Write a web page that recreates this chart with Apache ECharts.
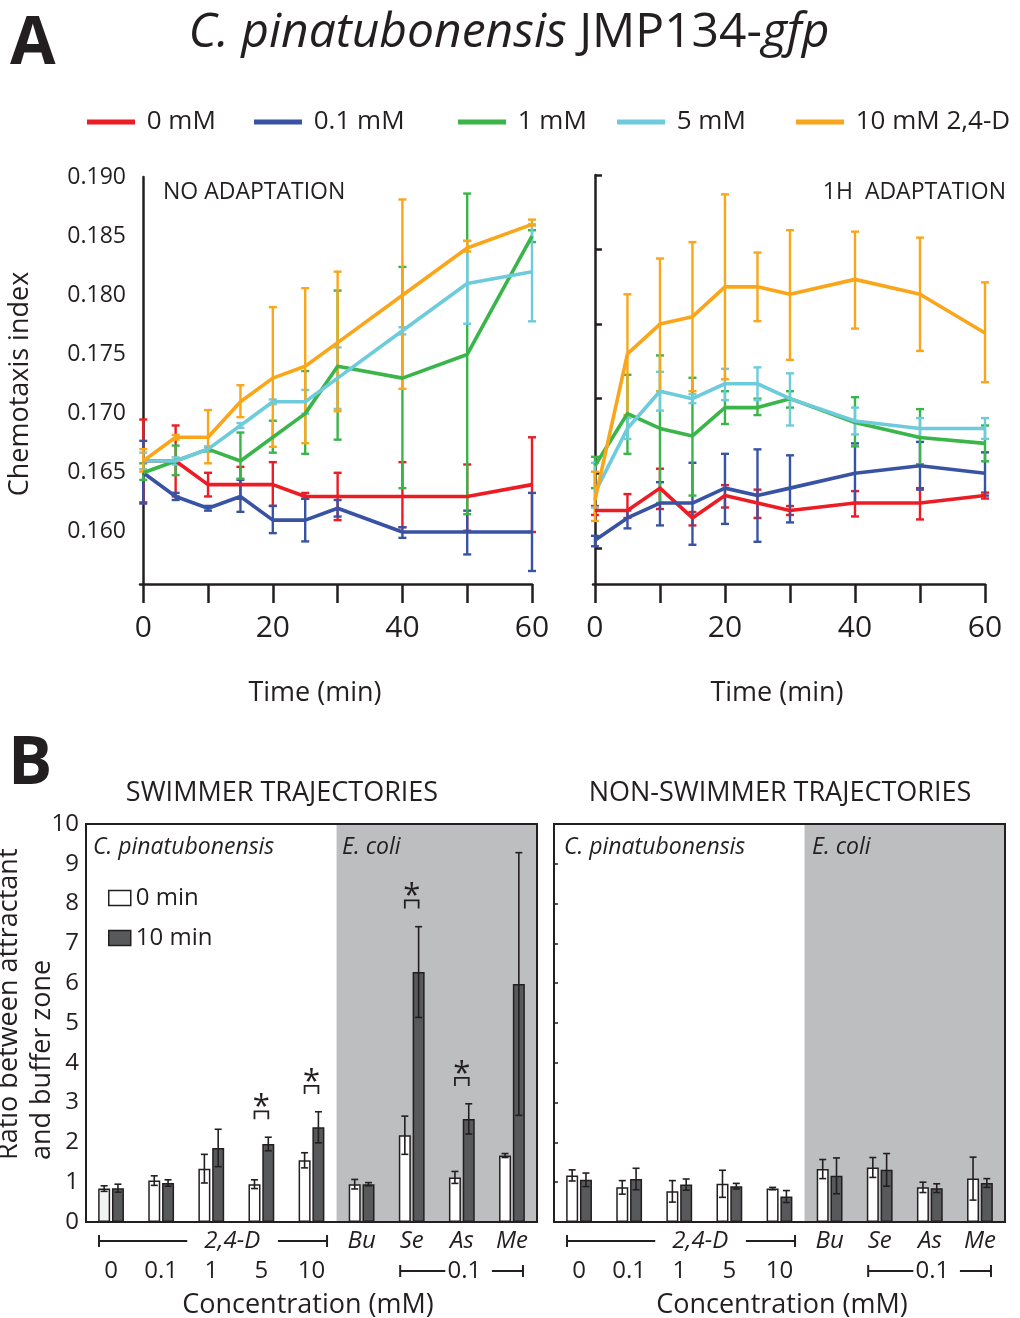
<!DOCTYPE html>
<html><head><meta charset="utf-8">
<script src="https://cdn.jsdelivr.net/npm/echarts@6/dist/echarts.min.js"></script>
<style>html,body{margin:0;padding:0;background:#fff}#c{width:1020px;height:1318px}</style>
</head><body><div id="c"></div>
<script>
const TXT = '#231f20';
const FONT = '"Open Sans", "Noto Sans", sans-serif';

// ---------- Panel A data ----------
const timePoints = [0, 5, 10, 15, 20, 25, 30, 40, 50, 60];
const concNames = ['0 mM', '0.1 mM', '1 mM', '5 mM', '10 mM 2,4-D'];
const lineColors = ['#ed1c24', '#3953a4', '#3ab54a', '#6dcbdc', '#faa61a'];
const leftYTicks = [0.160, 0.165, 0.170, 0.175, 0.180, 0.185, 0.190];
const rightYTicks = [0.160, 0.165, 0.170, 0.175, 0.180, 0.185];
const timeTicks = [0, 10, 20, 30, 40, 50, 60];
const timeLabels = [0, 20, 40, 60];

// NO ADAPTATION
const noAdapt0mM   = [0.166, 0.166, 0.164, 0.164, 0.164, 0.163, 0.163, 0.163, 0.163, 0.164];
const noAdapt0mMHi = [0.1695, 0.169, 0.165, 0.1655, 0.1659, 0.1633, 0.165, 0.1659, 0.1657, 0.168];
const noAdapt0mMLo = [0.1625, 0.163, 0.163, 0.1628, 0.1622, 0.1628, 0.161, 0.1604, 0.1601, 0.160];
const noAdapt01mM   = [0.165, 0.163, 0.162, 0.163, 0.161, 0.161, 0.162, 0.160, 0.160, 0.160];
const noAdapt01mMHi = [0.1677, 0.1633, 0.1622, 0.1644, 0.1622, 0.1628, 0.1627, 0.1604, 0.1618, 0.1633];
const noAdapt01mMLo = [0.1624, 0.1627, 0.1618, 0.1617, 0.1599, 0.1592, 0.1613, 0.1595, 0.1581, 0.1567];
const noAdapt1mM   = [0.165, 0.166, 0.167, 0.166, 0.168, 0.170, 0.174, 0.173, 0.175, 0.185];
const noAdapt1mMHi = [0.1658, 0.1673, 0.1672, 0.1684, 0.1694, 0.1736, 0.1804, 0.1824, 0.1886, 0.1855];
const noAdapt1mMLo = [0.1644, 0.1648, 0.1668, 0.1645, 0.1667, 0.1666, 0.1678, 0.1637, 0.1615, 0.1845];
const noAdapt5mM   = [0.166, 0.166, 0.167, 0.169, 0.171, 0.171, 0.173, 0.177, 0.181, 0.182];
const noAdapt5mMHi = [0.1667, 0.1663, 0.1672, 0.1692, 0.1712, 0.172, 0.1756, 0.1773, 0.1846, 0.186];
const noAdapt5mMLo = [0.1653, 0.1657, 0.1668, 0.1688, 0.1708, 0.170, 0.1704, 0.1767, 0.1776, 0.1778];
const noAdapt10mM   = [0.166, 0.168, 0.168, 0.171, 0.173, 0.174, 0.176, 0.180, 0.184, 0.186];
const noAdapt10mMHi = [0.167, 0.1682, 0.1703, 0.1724, 0.179, 0.1806, 0.182, 0.1881, 0.1846, 0.1864];
const noAdapt10mMLo = [0.1651, 0.1678, 0.1658, 0.1697, 0.1672, 0.1675, 0.1702, 0.1721, 0.1837, 0.1859];

// 1H ADAPTATION
const adapt0mM   = [0.1625, 0.1625, 0.164, 0.162, 0.1635, 0.163, 0.1625, 0.163, 0.163, 0.1635];
const adapt0mMHi = [0.1628, 0.1636, 0.1653, 0.1624, 0.1642, 0.1639, 0.1628, 0.1638, 0.164, 0.1637];
const adapt0mMLo = [0.1622, 0.162, 0.1626, 0.1615, 0.1627, 0.162, 0.1622, 0.1621, 0.1619, 0.1633];
const adapt01mM   = [0.1605, 0.162, 0.163, 0.163, 0.164, 0.1635, 0.164, 0.165, 0.1655, 0.165];
const adapt01mMHi = [0.1608, 0.1625, 0.1644, 0.1657, 0.1663, 0.1666, 0.1662, 0.167, 0.1671, 0.1664];
const adapt01mMLo = [0.1601, 0.1613, 0.1615, 0.1602, 0.1616, 0.1604, 0.1617, 0.163, 0.1639, 0.1635];
const adapt1mM   = [0.1655, 0.169, 0.168, 0.1675, 0.1694, 0.1694, 0.170, 0.1684, 0.1674, 0.167];
const adapt1mMHi = [0.1661, 0.1716, 0.1729, 0.1714, 0.1705, 0.170, 0.1705, 0.1701, 0.1693, 0.1682];
const adapt1mMLo = [0.164, 0.1663, 0.163, 0.1635, 0.1683, 0.1689, 0.1694, 0.1668, 0.1656, 0.1658];
const adapt5mM   = [0.1637, 0.168, 0.1705, 0.170, 0.171, 0.171, 0.170, 0.1685, 0.168, 0.168];
const adapt5mMHi = [0.1657, 0.1687, 0.1718, 0.1703, 0.172, 0.1721, 0.1717, 0.1694, 0.1687, 0.1687];
const adapt5mMLo = [0.1627, 0.1673, 0.1692, 0.1697, 0.1699, 0.1699, 0.1682, 0.1676, 0.1674, 0.1673];
const adapt10mM   = [0.1632, 0.173, 0.175, 0.1755, 0.1775, 0.1775, 0.177, 0.178, 0.177, 0.1744];
const adapt10mMHi = [0.1651, 0.177, 0.1794, 0.1805, 0.1837, 0.1798, 0.1813, 0.1812, 0.1808, 0.1778];
const adapt10mMLo = [0.1618, 0.1689, 0.1705, 0.1705, 0.1713, 0.1752, 0.1726, 0.1747, 0.1732, 0.1711];

// ---------- Panel B data ----------
const categories = ['0', '0.1', '1', '5', '10', 'Bu', 'Se', 'As', 'Me'];
const barNames = ['0 min', '10 min'];
const swim0 = [0.84, 1.04, 1.34, 0.95, 1.55, 0.95, 2.18, 1.12, 1.67];
const swim0Err = [0.07, 0.12, 0.36, 0.11, 0.19, 0.12, 0.48, 0.15, 0.05];
const swim10 = [0.85, 0.98, 1.86, 1.96, 2.38, 0.95, 6.28, 2.59, 5.98];
const swim10Err = [0.10, 0.08, 0.47, 0.17, 0.39, 0.04, 1.14, 0.38, 3.30];
const nonSwim0 = [1.17, 0.87, 0.77, 0.96, 0.84, 1.33, 1.37, 0.87, 1.09];
const nonSwim0Err = [0.14, 0.17, 0.27, 0.34, 0.03, 0.24, 0.25, 0.13, 0.54];
const nonSwim10 = [1.06, 1.08, 0.94, 0.90, 0.64, 1.16, 1.31, 0.85, 0.98];
const nonSwim10Err = [0.17, 0.27, 0.14, 0.07, 0.15, 0.45, 0.41, 0.11, 0.11];
const sigCategories = ['5', '10', 'Se', 'As'];
const sigLevels = [2.78, 3.42, 8.08, 3.62];
const ecoliStart = 'Bu';

// ---------- helpers ----------
function errRenderer(color, lw, hw, dx) {
  return function (params, api) {
    const x = api.value(0);
    const top = api.coord([x, api.value(1)]);
    const bot = api.coord([x, api.value(2)]);
    const cx = top[0] + dx;
    const st = { stroke: color, lineWidth: lw };
    return { type: 'group', children: [
      { type: 'line', shape: { x1: cx, y1: top[1], x2: cx, y2: bot[1] }, style: st },
      { type: 'line', shape: { x1: cx - hw, y1: top[1], x2: cx + hw, y2: top[1] }, style: st },
      { type: 'line', shape: { x1: cx - hw, y1: bot[1], x2: cx + hw, y2: bot[1] }, style: st }
    ]};
  };
}

const noAdaptSets = [
  [noAdapt0mM, noAdapt0mMHi, noAdapt0mMLo], [noAdapt01mM, noAdapt01mMHi, noAdapt01mMLo],
  [noAdapt1mM, noAdapt1mMHi, noAdapt1mMLo], [noAdapt5mM, noAdapt5mMHi, noAdapt5mMLo],
  [noAdapt10mM, noAdapt10mMHi, noAdapt10mMLo]
];
const adaptSets = [
  [adapt0mM, adapt0mMHi, adapt0mMLo], [adapt01mM, adapt01mMHi, adapt01mMLo],
  [adapt1mM, adapt1mMHi, adapt1mMLo], [adapt5mM, adapt5mMHi, adapt5mMLo],
  [adapt10mM, adapt10mMHi, adapt10mMLo]
];

const series = [];
[noAdaptSets, adaptSets].forEach((sets, gi) => {
  sets.forEach((s, k) => {
    series.push({
      type: 'custom', xAxisIndex: gi, yAxisIndex: gi, silent: true, z: 3,
      renderItem: errRenderer(lineColors[k], 2.4, 4, 0),
      encode: { x: 0, y: [1, 2] },
      data: timePoints.map((t, i) => [t, s[1][i], s[2][i]])
    });
    series.push({
      type: 'line', name: concNames[k], xAxisIndex: gi, yAxisIndex: gi, z: 3,
      symbol: 'none', silent: true,
      lineStyle: { color: lineColors[k], width: 3.6, join: 'round' },
      itemStyle: { color: lineColors[k] },
      data: timePoints.map((t, i) => [t, s[0][i]])
    });
  });
});

// Panel B
function bgRender(params, api) {
  const cs = params.coordSys;
  const c = api.coord([api.value(0), 0]);
  const bw = api.size([1, 0])[0];
  const x = c[0] - bw / 2;
  return { type: 'rect', shape: { x: x, y: cs.y, width: cs.x + cs.width - x, height: cs.height },
    style: { fill: '#bcbec0' } };
}
function frameRender(params, api) {
  const cs = params.coordSys;
  return { type: 'rect', shape: { x: cs.x, y: cs.y, width: cs.width, height: cs.height },
    style: { fill: 'none', stroke: TXT, lineWidth: 2 } };
}
function sigRender(params, api) {
  const p = api.coord([api.value(0), api.value(1)]);
  const l = p[0] - 6.9, r = p[0] + 6.9;
  return { type: 'group', children: [
    { type: 'polyline', shape: { points: [[l, p[1] + 8], [l, p[1]], [r, p[1]], [r, p[1] + 8]] },
      style: { stroke: TXT, lineWidth: 1.8, fill: 'none' } },
    { type: 'text', x: p[0], y: p[1] - 4,
      style: { text: '*', fontSize: 31, fontFamily: FONT, fill: TXT, align: 'center', verticalAlign: 'middle' } }
  ]};
}
function axisAnnot(params, api) {
  const cs = params.coordSys;
  const bw = api.size([1, 0])[0];
  const x0 = api.coord([0, 0])[0];
  const yb = cs.y + cs.height;
  const y1 = yb + 19, y2 = yb + 49;
  const X = k => x0 + k * bw;
  const st = { stroke: TXT, lineWidth: 2 };
  const cap = (x, y) => ({ type: 'line', shape: { x1: x, y1: y - 6, x2: x, y2: y + 6 }, style: st });
  const seg = (a, b, y) => ({ type: 'line', shape: { x1: a, y1: y, x2: b, y2: y }, style: st });
  const txt = (t, x, y, it) => ({ type: 'text', x: x, y: y, style: { text: t, fontSize: 24,
    fontStyle: it ? 'italic' : 'normal', fontFamily: FONT, fill: TXT, align: 'center', verticalAlign: 'middle' } });
  return { type: 'group', children: [
    cap(X(-0.24), y1), seg(X(-0.24), X(1.52), y1), txt('2,4-D', X(2.42), y1, true),
    seg(X(3.33), X(4.31), y1), cap(X(4.31), y1),
    cap(X(5.77), y2), seg(X(5.77), X(6.67), y2), txt('0.1', X(7.05), y2, false),
    seg(X(7.6), X(8.22), y2), cap(X(8.22), y2)
  ]};
}

const barSets = [
  [swim0, swim0Err, swim10, swim10Err],
  [nonSwim0, nonSwim0Err, nonSwim10, nonSwim10Err]
];
barSets.forEach((b, j) => {
  const ai = 2 + j;
  series.push({ type: 'custom', xAxisIndex: ai, yAxisIndex: ai, silent: true, z: 1,
    renderItem: bgRender, data: [[categories.indexOf(ecoliStart), 0]] });
  series.push({ type: 'bar', name: barNames[0], xAxisIndex: ai, yAxisIndex: ai, z: 2, silent: true,
    barWidth: 12, barGap: '15%',
    itemStyle: { color: '#ffffff', borderColor: TXT, borderWidth: 1.5 },
    data: b[0].map((v, i) => (j === 0 && i === 0) ? { value: v, itemStyle: { color: '#f1f2f2' } } : v) });
  series.push({ type: 'bar', name: barNames[1], xAxisIndex: ai, yAxisIndex: ai, z: 2, silent: true,
    barWidth: 12, barGap: '15%',
    itemStyle: { color: '#58595b', borderColor: TXT, borderWidth: 1.5 },
    data: b[2] });
  series.push({ type: 'custom', xAxisIndex: ai, yAxisIndex: ai, silent: true, z: 3,
    renderItem: errRenderer(TXT, 1.6, 3.5, -6.9), encode: { x: 0, y: [1, 2] },
    data: b[0].map((v, i) => [i, v + b[1][i], v - b[1][i]]) });
  series.push({ type: 'custom', xAxisIndex: ai, yAxisIndex: ai, silent: true, z: 3,
    renderItem: errRenderer(TXT, 1.6, 3.5, 6.9), encode: { x: 0, y: [1, 2] },
    data: b[2].map((v, i) => [i, v + b[3][i], v - b[3][i]]) });
  series.push({ type: 'custom', xAxisIndex: ai, yAxisIndex: ai, silent: true, z: 4,
    renderItem: frameRender, data: [[0, 0]] });
  series.push({ type: 'custom', xAxisIndex: ai, yAxisIndex: ai, silent: true, z: 4, clip: false,
    renderItem: axisAnnot, data: [[0, 0]] });
});
series.push({ type: 'custom', xAxisIndex: 2, yAxisIndex: 2, silent: true, z: 4, clip: false,
  renderItem: sigRender, encode: { x: 0, y: 1 },
  data: sigCategories.map((c, i) => [categories.indexOf(c), sigLevels[i]]) });

// ---------- axes ----------
const axLine = { show: true, lineStyle: { color: TXT, width: 2.5 } };
function timeAxis(gi, min) {
  return { gridIndex: gi, type: 'value', min: min, max: 60, axisLine: axLine,
    axisTick: { show: true, length: 19, customValues: timeTicks, lineStyle: { color: TXT, width: 2.5 } },
    axisLabel: { customValues: timeLabels, fontSize: 30, color: TXT, fontFamily: FONT, margin: 29 },
    splitLine: { show: false } };
}
const catAxis = gi => ({ gridIndex: gi, type: 'category', data: categories,
  axisLine: { show: false }, axisTick: { show: false },
  axisLabel: { interval: 0, margin: 4, color: TXT,
    formatter: (v, i) => i < 5 ? '{b| }\n{n|' + v + '}' : '{it|' + v + '}\n{b| }',
    rich: {
      b: { lineHeight: 30, fontSize: 24, fontFamily: FONT },
      n: { lineHeight: 30, fontSize: 24, fontFamily: FONT, color: TXT },
      it: { lineHeight: 30, fontSize: 24, fontFamily: FONT, fontStyle: 'italic', color: TXT }
    } } });

const text = (t, x, y, size, opts) => Object.assign({ type: 'text', x: x, y: y, z: 100, silent: true,
  style: Object.assign({ text: t, fontSize: size, fontFamily: FONT, fill: TXT, align: 'center', verticalAlign: 'middle' }, (opts && opts.style) || {}) },
  (opts && opts.el) || {});

const legendBase = (name, left) => ({ data: [name], left: left, top: 107, padding: 0, icon: 'rect',
  itemWidth: 48, itemHeight: 5, selectedMode: false,
  formatter: n => ' ' + n,
  textStyle: { fontSize: 26, fontFamily: FONT, color: TXT, lineHeight: 30 } });

const option = {
  animation: false,
  backgroundColor: '#ffffff',
  grid: [
    { left: 140, top: 177, width: 392, height: 407 },
    { left: 593, top: 175, width: 392, height: 409 },
    { left: 86, top: 824, width: 451, height: 398 },
    { left: 554, top: 824, width: 451, height: 398 }
  ],
  xAxis: [timeAxis(0, -0.5), timeAxis(1, -0.3), catAxis(2), catAxis(3)],
  yAxis: [
    { gridIndex: 0, type: 'value', min: 0.1556, max: 0.19, axisLine: axLine, axisTick: { show: false },
      axisLabel: { customValues: leftYTicks, formatter: v => v.toFixed(3), fontSize: 23, color: TXT, fontFamily: FONT, margin: 14 },
      splitLine: { show: false } },
    { gridIndex: 1, type: 'value', min: 0.15757, max: 0.185, axisLine: axLine,
      axisTick: { show: true, inside: true, length: 7, customValues: rightYTicks, lineStyle: { color: TXT, width: 2.5 } },
      axisLabel: { show: false, customValues: rightYTicks }, splitLine: { show: false } },
    { gridIndex: 2, type: 'value', min: 0, max: 10, interval: 1, axisLine: { show: false }, axisTick: { show: false },
      axisLabel: { fontSize: 24, color: TXT, fontFamily: FONT, margin: 7 }, splitLine: { show: false } },
    { gridIndex: 3, type: 'value', min: 0, max: 10, interval: 1, axisLine: { show: false },
      axisTick: { show: true, inside: true, length: 4, lineStyle: { color: TXT, width: 1.5 } },
      axisLabel: { show: false }, splitLine: { show: false } }
  ],
  legend: [
    legendBase(concNames[0], 87), legendBase(concNames[1], 254), legendBase(concNames[2], 458),
    legendBase(concNames[3], 617), legendBase(concNames[4], 796),
    { data: barNames, orient: 'vertical', left: 108, top: 884, padding: 0, icon: 'rect',
      itemWidth: 22, itemHeight: 15, itemGap: 12, selectedMode: false,
      itemStyle: { borderColor: TXT, borderWidth: 1.5 },
      textStyle: { fontSize: 24, fontFamily: FONT, color: TXT, lineHeight: 28 } }
  ],
  graphic: [
    text('A', 10, 45, 66, { style: { align: 'left', fontWeight: 'bold' } }),
    text('{i|C. pinatubonensis}{r| JMP134-}{i|gfp}', 509, 33, 48, { style: { rich: {
      i: { fontSize: 48, fontFamily: FONT, fontStyle: 'italic', fill: TXT },
      r: { fontSize: 48, fontFamily: FONT, fill: TXT } } } }),
    text('NO ADAPTATION', 163, 192, 23, { style: { align: 'left' } }),
    text('1H  ADAPTATION', 1006, 192, 23, { style: { align: 'right' } }),
    text('Chemotaxis index', 20, 384, 27, { el: { rotation: Math.PI / 2 } }),
    text('Time (min)', 315, 693, 27),
    text('Time (min)', 777, 693, 27),
    text('B', 8, 765, 66, { style: { align: 'left', fontWeight: 'bold' } }),
    text('SWIMMER TRAJECTORIES', 282, 793, 27),
    text('NON-SWIMMER TRAJECTORIES', 780, 793, 27),
    text('C. pinatubonensis', 93, 847, 23, { style: { align: 'left', fontStyle: 'italic' } }),
    text('E. coli', 342, 847, 23, { style: { align: 'left', fontStyle: 'italic' } }),
    text('C. pinatubonensis', 564, 847, 23, { style: { align: 'left', fontStyle: 'italic' } }),
    text('E. coli', 812, 847, 23, { style: { align: 'left', fontStyle: 'italic' } }),
    text('Ratio between attractant', 9, 1160, 27, { style: { align: 'left' }, el: { rotation: Math.PI / 2 } }),
    text('and buffer zone', 42, 1160, 27, { style: { align: 'left' }, el: { rotation: Math.PI / 2 } }),
    text('Concentration (mM)', 308, 1305, 27),
    text('Concentration (mM)', 782, 1305, 27)
  ],
  series: series
};

const chart = echarts.init(document.getElementById('c'), null, { renderer: 'canvas' });
chart.setOption(option);
</script></body></html>
